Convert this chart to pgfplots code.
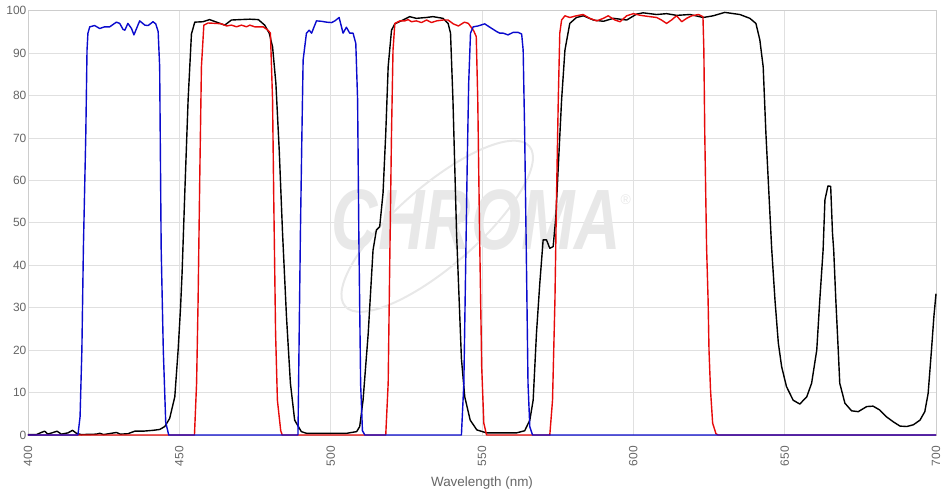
\documentclass[border=0pt]{standalone}
\usepackage{pgfplots}
\pgfplotsset{compat=1.18}
\usepackage{fontspec}
\setmainfont{Liberation Sans}
\definecolor{cblue}{RGB}{10,10,205}
\definecolor{cred}{RGB}{230,10,10}
\definecolor{gridc}{RGB}{224,224,224}
\definecolor{axisc}{RGB}{205,205,205}
\definecolor{tickc}{RGB}{102,102,102}
\definecolor{wmark}{RGB}{232,232,232}
\begin{document}
\begin{tikzpicture}
\useasboundingbox (-28bp,-62bp) rectangle (923bp,435bp);
\begin{axis}[at={(0,0)}, anchor=south west, scale only axis,
  width=908bp, height=424.3bp,
  xmin=400, xmax=700, ymin=0, ymax=100,
  clip=false,
  xtick={400,450,500,550,600,650,700},
  xticklabels={400,450,500,550,600,650,700},
  ytick={0,10,20,30,40,50,60,70,80,90,100},
  yticklabels={0,10,20,30,40,50,60,70,80,90,100},
  grid=major, major grid style={draw=gridc, line width=0.8bp},
  axis line style={draw=axisc, line width=0.8bp},
  tick style={draw=none},
  tick label style={font=\fontsize{12}{12}\selectfont, text=tickc},
  xticklabel style={yshift=-11bp, rotate=90, anchor=east, inner sep=0pt},
  yticklabel style={anchor=east, inner sep=0pt, xshift=-1.5bp},
  xlabel={Wavelength (nm)},
  xlabel style={at={(axis description cs:0.5,0)}, anchor=base, yshift=-51.7bp,
    font=\fontsize{13.5}{13.5}\selectfont, text=tickc},
]
% watermark
\draw[wmark, line width=2bp, rotate around={41:(axis cs:535.2,49.2)}] (axis cs:535.2,49.2) ellipse [x radius=122bp, y radius=40bp];
\node[text=wmark, font=\fontsize{86}{86}\selectfont\bfseries\itshape, xscale=0.75] at (axis cs:548.2,50.6) {CHROMA};
\node[text=wmark, font=\fontsize{14}{14}\selectfont] at (axis cs:597.5,55.5) {®};

\addplot[black, line width=1.4bp, mark=none, line join=round] table {
400 0.1
402.8 0.1
404.4 0.6
405.5 0.9
406.6 0.2
408.3 0.6
409.6 0.9
411.0 0.2
413.2 0.5
414.7 1.1
416.0 0.4
417.6 0.1
422.6 0.2
423.7 0.4
425 0.1
429.2 0.6
430.5 0.2
433 0.3
435.3 0.9
438 0.9
441.3 1.1
443.5 1.3
445.2 2.0
446.8 3.9
448.5 9
449.6 20
450.4 30
450.9 38
451.8 57
452.9 79
454.0 94.5
455.1 97.3
457.8 97.4
460.0 97.9
462.3 97.3
465.0 96.6
467.2 97.8
470 97.9
473.3 98.0
476.1 97.9
478.2 96.6
479.7 94.7
480.8 91.5
481.9 82.9
483.0 67.2
484.1 47.6
485.4 27.9
486.7 12.2
488.1 3.5
490.3 0.8
492 0.4
505.3 0.4
508.6 0.8
509.6 2
510.7 8.2
512.4 23.9
514.0 43.6
515.1 48.3
516.2 49.1
517.3 57
518.2 71.1
519.0 86.8
520.1 95.4
521.2 96.9
523.9 97.8
526.1 98.6
528.3 98.2
531.6 98.4
533.8 98.6
537.1 98.2
538.8 97
539.6 94.7
540.4 79
541.6 47.5
543.2 18
544.3 9
546.1 3.5
548.3 1.2
551.5 0.5
561.4 0.5
564.1 1
565.8 3.5
566.9 8.2
568.0 24
569.1 35.8
570.2 46
571.3 46
572.4 44
573.5 44.4
574.4 51.4
575.2 63.2
576.3 79
577.4 90.7
579.0 97
581.2 98.4
583.5 98.8
586.8 97.8
590.1 97.5
593.4 98.2
597.8 97.8
601.1 99.2
603.2 99.5
607.7 99.1
611.0 99.3
614.3 98.9
618.7 99.1
623.1 98.4
626.4 98.8
630.2 99.6
635.2 99.1
638.5 98.2
640.5 97
641.8 93.1
642.9 86.8
643.8 71.1
644.9 55.4
645.7 44
646.8 31.8
647.9 21.7
649.0 16.1
650.6 11.4
652.8 8.2
655.0 7.3
657.3 9
658.9 12.2
660.6 20
661.6 31.8
662.7 43.6
663.3 55.4
664.3 58.7
665.2 58.6
665.8 47.6
666.2 43.6
666.9 31.8
667.7 20
668.2 12.2
669.9 7.5
672.1 5.7
674.3 5.5
677.1 6.7
679.2 6.8
681.4 5.9
683.6 4.3
685.9 3.1
688.1 2.1
690.3 2.0
692.5 2.4
694.7 3.5
696.3 5.5
697.4 9.8
698.5 20
699.3 27.9
700 33.3
};

\addplot[cred, line width=1.4bp, mark=none, line join=round] table {
400 0
455.0 0
455.7 12.2
456.2 31.8
456.8 63.2
457.3 86.8
458.1 96.6
459.5 97.1
462.3 97.0
463.9 96.9
465.6 96.4
467.2 96.6
468.9 96.2
470.5 96.6
472.2 96.2
473.3 96.6
474.9 96.2
477.7 96.2
479.3 95.4
480.1 94.7
480.8 79
481.2 55.4
481.8 24
482.4 8.2
483.5 1.0
484 0
518.2 0
519.0 12.2
519.5 39.6
520.1 71.1
520.6 90.7
521.2 97
522.9 97.6
524.5 97.6
525.6 97.9
526.7 97.4
528.3 97.6
530.0 97.2
531.7 97.8
533.3 97.2
535.0 97.6
537.1 97.8
538.8 97.8
540.5 96.9
542.2 96.4
544.2 97.3
545.5 97
547.3 95.2
548.1 93.9
548.6 79
549.2 47.5
549.9 16.1
550.6 2.8
551.5 0
572.4 0
573.3 8.2
574.1 31.8
574.6 55.4
575.2 79
575.7 94.7
576.3 97.8
577.4 98.8
579.0 98.4
581.2 98.8
583.4 99.1
585.6 98.2
587.9 97.6
590.1 98.2
591.7 98.8
593.9 97.8
595.6 97.4
597.8 98.8
600.0 99.3
602.4 98.9
605.4 98.6
607.7 98.4
609.3 97.8
611.0 97.0
612.6 97.8
614.3 98.8
616.0 97.4
617.6 98.2
619.3 98.8
621.5 99.1
623.0 98.6
623.3 90.7
623.6 71
624.2 44.3
624.7 31.8
625.0 20
625.5 10.6
626.2 2.8
627.3 0.3
628 0
700 0
};

\addplot[cblue, line width=1.4bp, mark=none, line join=round] table {
400 0
416.5 0
417.2 4.3
417.8 20
418.3 44
419.1 71
419.5 90.7
419.8 94.7
420.4 96.2
422.0 96.5
423.7 95.8
425.3 96.2
427.0 96.2
429.2 97.3
430.3 97.0
431.4 95.6
432.0 95.4
433.0 97.0
434.2 95.8
435.0 94.3
436.9 97.6
438.6 96.6
439.7 96.5
441.3 97.4
442.2 96.9
443.0 95.1
443.5 86.8
444.0 44
444.7 20
445.5 3
446.5 0
489.2 0
489.6 24
490.0 47.5
490.5 71
490.9 88.4
492.0 94.7
492.9 95.4
493.7 94.7
495.3 97.6
497.0 97.5
498.6 97.3
500.3 97.2
501.4 97.6
502.8 98.4
504.1 94.7
505.2 96.1
506.3 94.7
507.4 94.7
508.3 92.3
508.9 79
509.3 47.5
509.9 12
510.5 1
511.3 0
543.2 0
544.0 12.2
544.6 39.6
545.1 63.2
545.6 82.9
546.2 94.7
547.1 96.2
548.7 96.4
550.9 96.9
552.6 96.1
554.8 95.1
555.9 94.7
557.0 94.7
558.6 94.3
560.3 94.9
561.9 94.9
563.1 94.5
563.6 90.7
564.1 71
564.7 39.6
565.2 12.2
565.8 1.9
566.7 0
700 0
};
\end{axis}
\end{tikzpicture}
\end{document}
